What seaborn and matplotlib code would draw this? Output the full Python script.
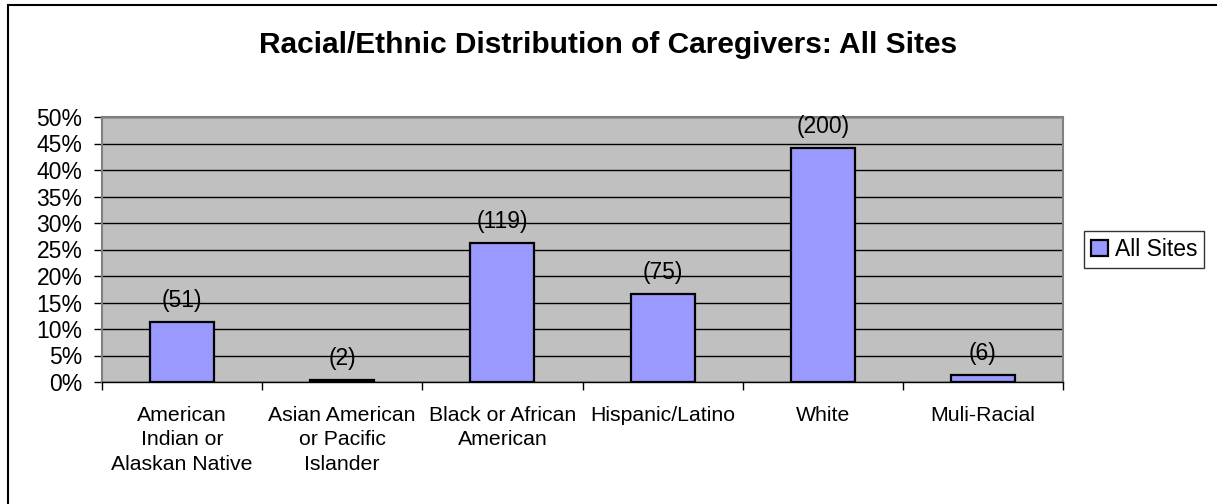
import matplotlib
matplotlib.use("Agg")
import matplotlib.pyplot as plt
import seaborn as sns
import pandas as pd
from matplotlib.patches import Rectangle
from matplotlib.ticker import MultipleLocator, PercentFormatter

categories = ["American\nIndian or\nAlaskan Native",
              "Asian American\nor Pacific\nIslander",
              "Black or African\nAmerican",
              "Hispanic/Latino",
              "White",
              "Muli-Racial"]
percent_values = [11.3, 0.44, 26.3, 16.6, 44.2, 1.3]
counts = [51, 2, 119, 75, 200, 6]
series_name = "All Sites"
title = "Racial/Ethnic Distribution of Caregivers: All Sites"

sns.set_theme(style="white")
plt.rcParams["font.family"] = ["Liberation Sans", "DejaVu Sans"]
plt.rcParams["text.color"] = "black"
plt.rcParams["xtick.color"] = "black"
plt.rcParams["ytick.color"] = "black"
plt.rcParams["axes.labelcolor"] = "black"

df = pd.DataFrame({"cat": categories, "pct": percent_values})

W, H = 1217, 504
fig = plt.figure(figsize=(W / 100, H / 100), dpi=100)
fig.patch.set_facecolor("white")
ax = fig.add_axes([102 / W, 1 - 382 / H, (1063 - 102) / W, (382 - 117) / H])

sns.barplot(data=df, x="cat", y="pct", color="#9999FF", saturation=1,
            width=0.4, edgecolor="black", linewidth=1.6, label=series_name, ax=ax)

ax.set_facecolor("#C0C0C0")
ax.set_ylim(0, 50)
ax.set_xlim(-0.5, len(categories) - 0.5)
ax.yaxis.set_major_locator(MultipleLocator(5))
ax.yaxis.set_major_formatter(PercentFormatter(decimals=0))
ax.grid(axis="y", color="black", linewidth=1)
ax.set_axisbelow(True)
ax.set_xlabel("")
ax.set_ylabel("")
for s in ax.spines.values():
    s.set_color("#808080")
    s.set_linewidth(1.5)
ax.spines["bottom"].set_color("black")
ax.spines["bottom"].set_linewidth(1)

# ticks
ax.tick_params(axis="y", which="major", left=True, length=6, width=1, color="black",
               labelsize=16.5, pad=8)
ax.set_xticks([i + 0.5 for i in range(-1, len(categories))], minor=True)
ax.tick_params(axis="x", which="minor", bottom=True, length=6, width=1, color="black")
ax.tick_params(axis="x", which="major", bottom=False, labelsize=15.3, pad=11)
for t in ax.get_xticklabels():
    t.set_linespacing(1.38)
    t.set_verticalalignment("top")

ax.bar_label(ax.containers[0], labels=[f"({c})" for c in counts], padding=7,
             fontsize=16.5, color="black")

fig.text(0.5, 1 - 45 / H, title, ha="center", va="center", fontsize=21.5,
         fontweight="bold", color="black")

leg = ax.legend(loc="center left", bbox_to_anchor=(1.022, 0.5), frameon=True,
                fancybox=False, edgecolor="black", fontsize=16.5,
                handlelength=0.75, handleheight=0.75, handletextpad=0.3,
                borderpad=0.3, borderaxespad=0)
leg.get_frame().set_linewidth(1)
for t in leg.get_texts():
    t.set_color("black")

fig.patches.append(Rectangle((8 / W, -0.1), 1.2, (1 - 5 / H) + 0.1,
                             transform=fig.transFigure, fill=False,
                             edgecolor="black", linewidth=1.5))

fig.savefig("out.png", dpi=100, facecolor="white")
